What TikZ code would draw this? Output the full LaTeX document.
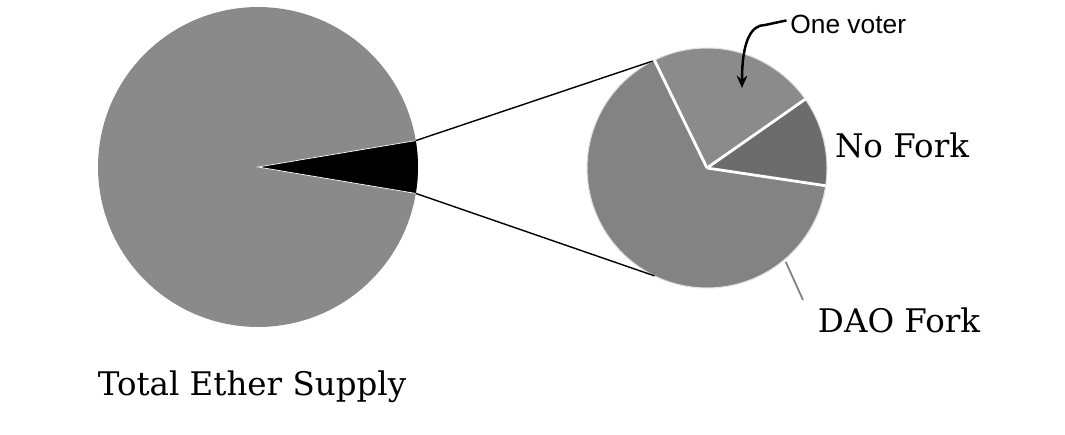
\documentclass[tikz,border=0pt]{standalone}
\usepackage{fontspec}
\usetikzlibrary{arrows.meta, calc}
\newfontfamily\labelfont{DejaVu Serif}
\newfontfamily\notefont{Liberation Sans}
\definecolor{piegray}{HTML}{8A8A8A}
\definecolor{daogray}{HTML}{838383}
\definecolor{votergray}{HTML}{8B8B8B}
\definecolor{nogray}{HTML}{6C6C6C}
\tikzstyle{pielabel}=[inner sep=0pt, anchor=base, font=\labelfont\fontsize{18.5}{20}\selectfont]
\tikzstyle{note}=[inner sep=0pt, anchor=base west, font=\notefont\fontsize{15}{17}\selectfont]
\tikzstyle{zoomline}=[black, line width=0.8pt]
\tikzstyle{cut}=[white, line width=1.6pt]
\newcommand{\pielabel}{\node[pielabel]}

\begin{document}
\begin{tikzpicture}[x=0.02cm, y=0.02cm]
\useasboundingbox (0,0) rectangle (1065,434);
%centres
\coordinate (big) at (258,267);
\coordinate (small) at (707,266);
%total supply
\fill[piegray] (big) circle (3.2cm);
\fill[black] (big) -- ++(-9.5:3.2cm) arc[start angle=-9.5, end angle=9.5, radius=3.2cm] -- cycle;
\draw[white, line width=0.4pt] ($(big)+(-9.5:3.2cm)$) -- (big) -- ($(big)+(9.5:3.2cm)$);
\coordinate (wt) at ($(big)+(9.5:3.2cm)$);
\coordinate (wb) at ($(big)+(-9.5:3.2cm)$);
%voters
\fill[daogray] (small) -- ++(116:2.4cm) arc[start angle=116, end angle=351.5, radius=2.4cm] -- cycle;
\fill[votergray] (small) -- ++(35:2.4cm) arc[start angle=35, end angle=116, radius=2.4cm] -- cycle;
\fill[nogray] (small) -- ++(-8.5:2.4cm) arc[start angle=-8.5, end angle=35, radius=2.4cm] -- cycle;
\draw[gray!25, line width=0.6pt] (small) circle (2.4cm);
\foreach \a in {116, 35, -8.5}{
	\draw[cut] (small) -- ++(\a:2.4cm);}
\coordinate (st) at ($(small)+(117:2.4cm)$);
\coordinate (sb) at ($(small)+(244:2.4cm)$);
%zoom lines
\draw[zoomline] (wt) -- (st);
\draw[zoomline] (wb) -- (sb);
%labels
\pielabel (total) at (252,39) {Total Ether Supply};
\pielabel (nofork) at (902,277) {No Fork};
\pielabel (dao) at (899,102) {DAO Fork};
\node[note] (voter) at (790,401) {One voter};
%leaders
\coordinate (daoedge) at ($(small)+(-50:2.45cm)$);
\coordinate (daoend) at (803,134);
\draw[gray, line width=1pt] (daoedge) -- (daoend);
\coordinate (bend) at (765,409);
\coordinate (tip) at (742,346);
\draw[line width=1.4pt, -{Stealth[length=7pt, width=6pt]}] ($(voter.west)+(-2pt,2pt)$) -- (bend) .. controls (752,409) and (742,395) .. (tip);
\end{tikzpicture}
\end{document}
